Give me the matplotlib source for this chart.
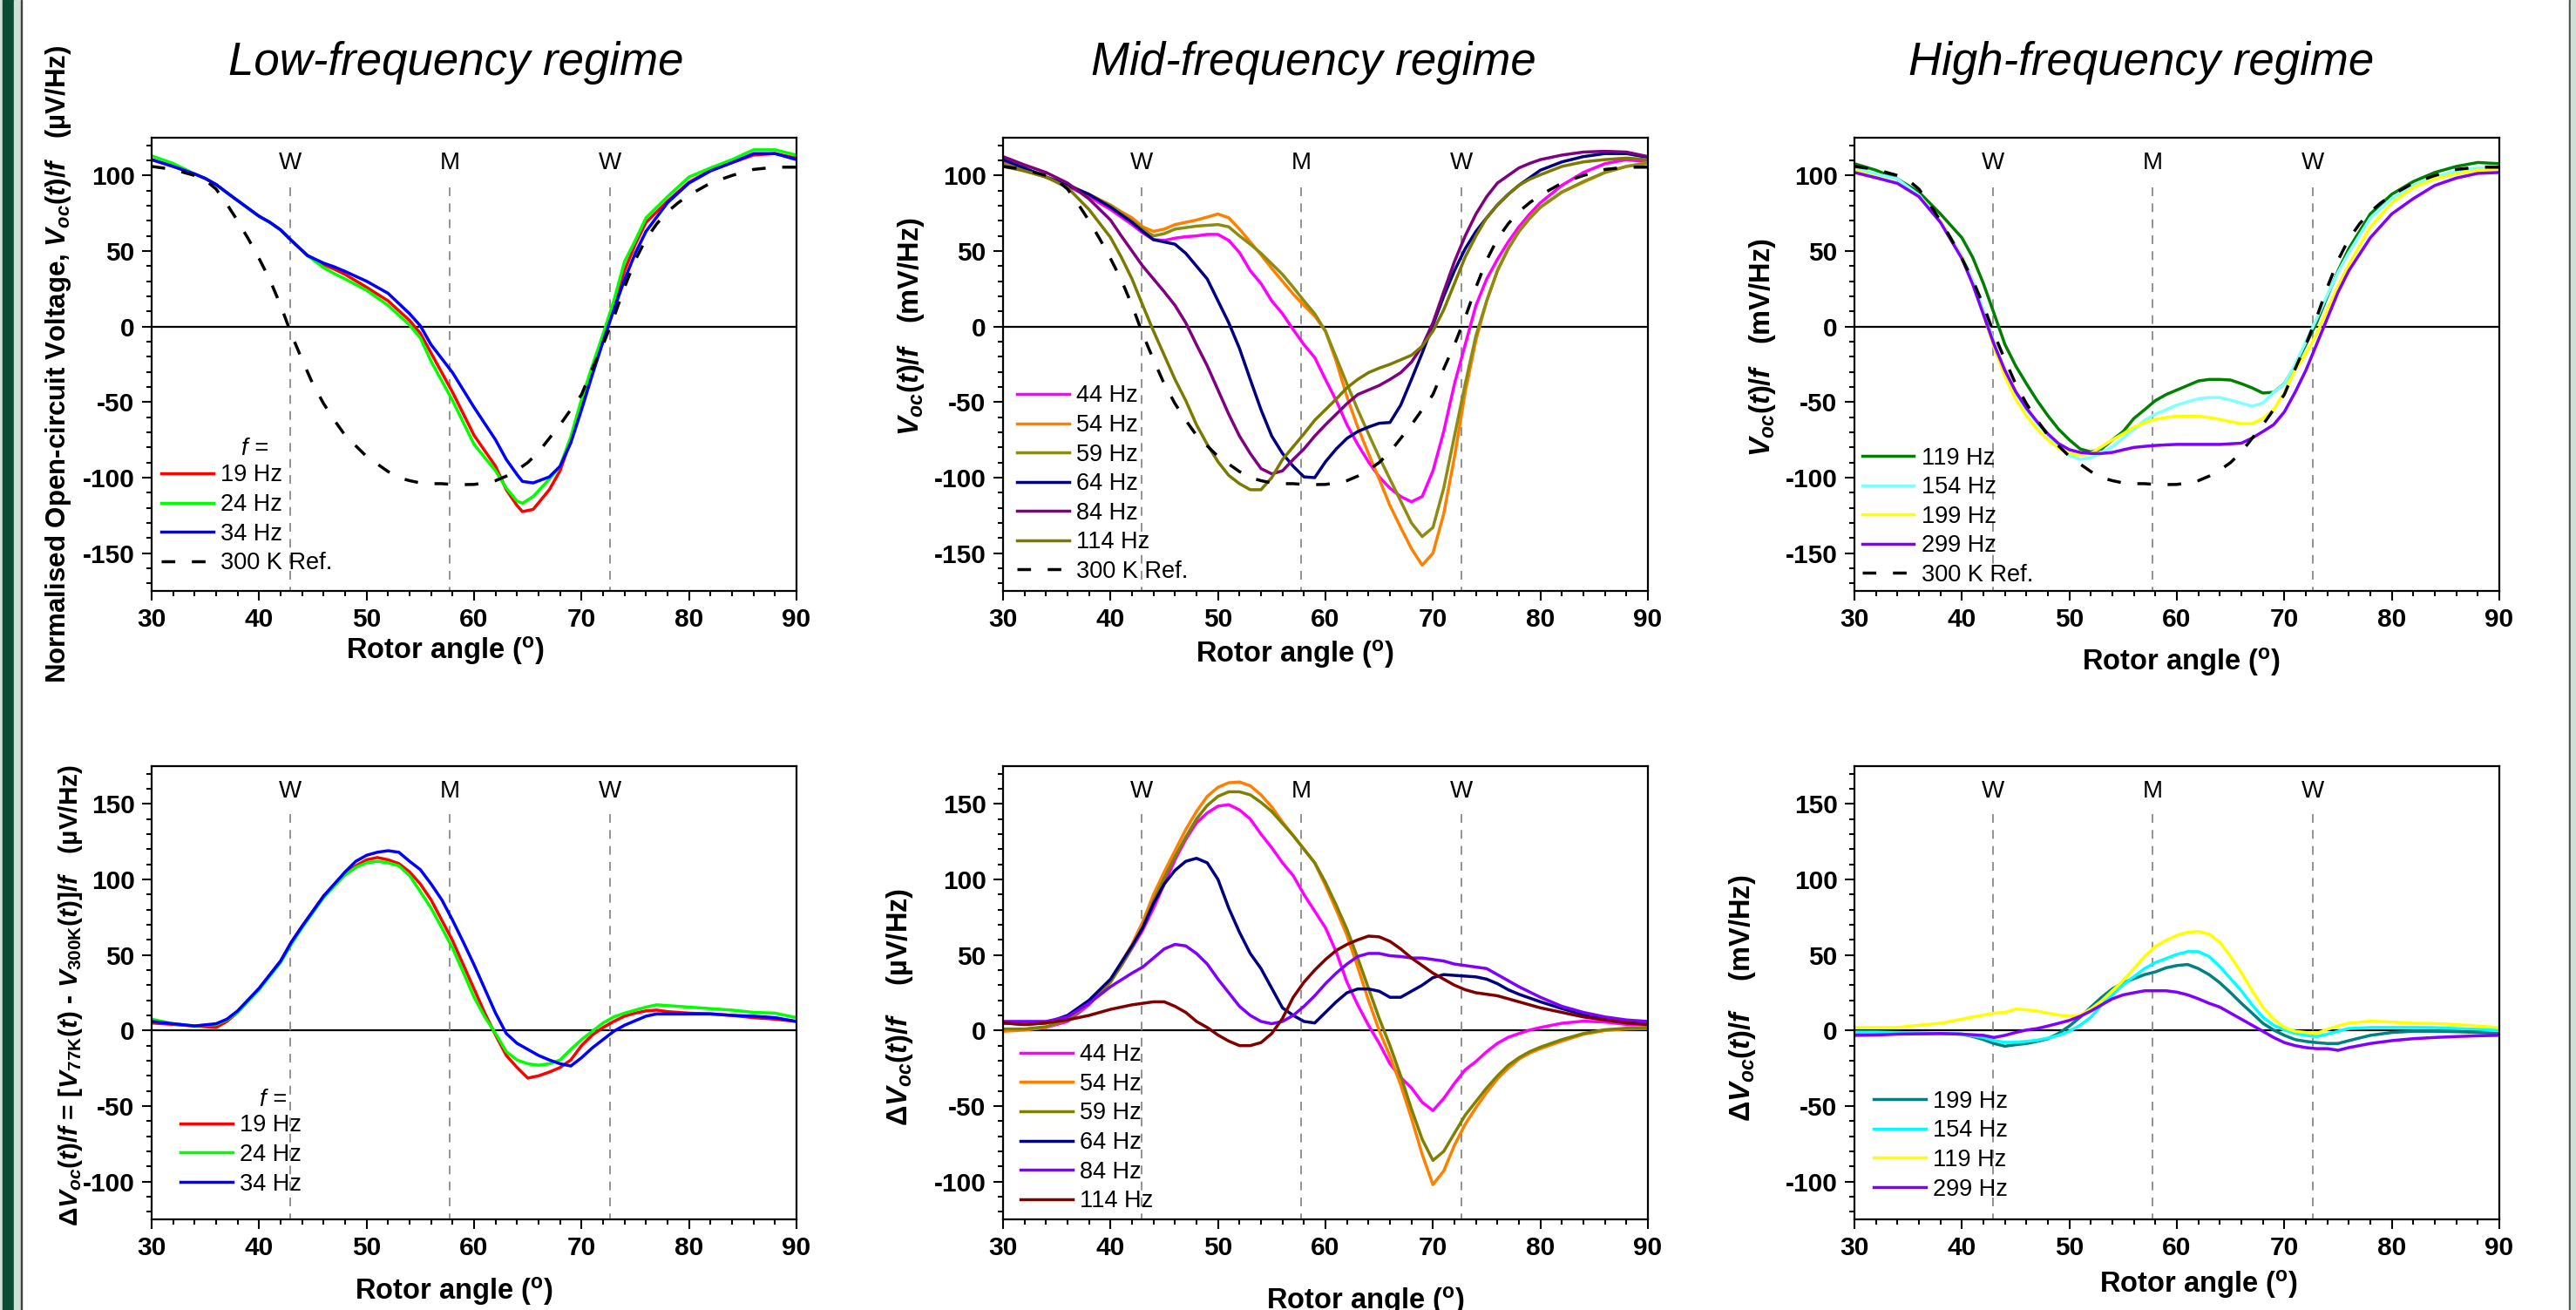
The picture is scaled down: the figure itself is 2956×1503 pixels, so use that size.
import matplotlib
matplotlib.use("Agg")
import matplotlib.pyplot as plt
from matplotlib.patches import Rectangle
from matplotlib.ticker import MultipleLocator

# ---------------- data ----------------
REF_X = [30, 32, 34, 35, 36, 37, 38, 39, 40, 41, 42, 43, 44, 45, 46, 47, 48, 49, 50, 51, 52, 53,
         54, 55, 56, 57, 58, 59, 60, 61, 62, 63, 64, 65, 66, 67, 68, 69, 70, 71, 72, 73, 74, 75,
         76, 77, 78, 79, 80, 82, 84, 86, 88, 90]
REF_300K = [106, 104, 100, 97, 91, 81, 70, 58, 45, 31, 14, -5, -22, -38, -51, -62, -72, -79, -86,
            -91, -96, -100, -102, -103.5, -104, -104, -104.5, -104.6, -104.5, -103.5, -102, -99,
            -95, -90, -83, -74, -65, -55, -45, -28, -12, 6, 26, 44, 58, 68, 76, 82, 87, 95, 100,
            104, 105.5, 105.5]

# low-frequency, top
LO_TOP_X = [30, 32, 34, 35, 36, 37.5, 40, 41, 42, 43, 44.5, 46, 47, 48, 50, 52, 54, 55, 56, 58, 60,
            62, 63, 64, 64.5, 65.5, 67, 68, 69, 70, 71, 72, 73, 74, 75, 76, 78, 80, 82, 84, 86, 88, 90]
LO_TOP_19 = [110.5, 106, 101, 98, 94, 86, 73, 69, 64, 57, 47, 41, 38, 34.5, 26, 17, 4, -4.5, -17.5,
             -43.5, -72, -92.5, -108, -118.5, -122.5, -121, -108, -95.5, -75, -52, -29, -7.5, 14,
             37, 54.5, 69, 83, 95.5, 103.5, 108.5, 113.5, 114.5, 111.5]
LO_TOP_24 = [113, 108, 101, 98, 94, 86, 73, 69, 64, 57, 47, 39, 35, 31.5, 24, 14, 1, -7.5, -23,
             -49, -78, -95.5, -107, -115.5, -117, -112.5, -101, -92.5, -73, -48, -26, -5, 17, 43,
             57, 72, 86, 99, 105, 110.5, 117, 117, 113.5]
LO_TOP_34 = [110.5, 106, 101, 98, 94, 86, 73, 69, 64, 57, 47, 42, 39.5, 36.5, 30, 22, 8.5, 0.5, -12,
             -30.5, -53.5, -75, -88, -98, -102.5, -103.5, -99.5, -92.5, -77, -55, -32, -10, 11, 31,
             48.5, 63, 82, 95, 103, 108.5, 114.5, 114.5, 110.5]

# low-frequency, bottom (difference)
LO_BOT_X = [30, 32, 34, 36, 37, 38, 40, 42, 43, 44, 46, 48, 49, 50, 51, 52, 53, 54, 55, 56, 57, 58,
            59, 60, 61, 62, 63, 64, 65, 66, 67, 68, 69, 70, 71, 72, 73, 74, 75, 76, 77, 78, 80, 82,
            84, 86, 88, 90]
LO_BOT_19 = [5, 4, 3, 2, 6, 12, 27.5, 46, 58.5, 69, 89, 104, 109, 113, 114.5, 113, 110.5, 105, 97,
             86.5, 73, 59.5, 43.5, 27.5, 11.5, -3, -16.5, -24.5, -31.5, -30, -27.5, -24.5, -19.5,
             -10, -3, 2, 6, 9.5, 11.5, 13, 13.5, 12.5, 11.5, 11, 10, 8.5, 7.5, 6]
LO_BOT_24 = [7.5, 4.5, 3, 4, 7, 12, 27, 45, 57, 68, 88, 103, 108, 111, 112, 111, 109, 102.5, 92, 81,
             68, 54.5, 38.5, 22, 9, -2, -14, -19.5, -22, -23, -22, -19.5, -12.5, -6, -0.5, 5, 9,
             11.5, 13.5, 15.5, 17, 16.5, 15.5, 14.5, 13.5, 12, 11.5, 8.5]
LO_BOT_34 = [6, 4.5, 3, 4.5, 7.5, 13, 28, 46, 58.5, 69, 89, 105, 112, 116, 118, 119, 118, 112,
             106.5, 97, 86.5, 73, 58.5, 43.5, 27.5, 11.5, -2, -8.5, -12.5, -16.5, -19.5, -22, -23.5,
             -18, -11.5, -6, -0.5, 3.5, 6.5, 9.5, 11, 11, 11, 11, 10, 9.5, 8.5, 6]

# mid-frequency
MID_X = [30, 32, 34, 36, 38, 40, 41, 42, 43, 44, 45, 46, 47, 48, 49, 50, 51, 52, 53, 54, 55, 56, 57,
         58, 59, 60, 61, 62, 63, 64, 65, 66, 67, 68, 69, 70, 71, 72, 73, 74, 75, 76, 77, 78, 79, 80,
         82, 84, 86, 88, 90]
MID_TOP_44 = [109, 104, 99, 93, 86, 77.5, 72.5, 67.5, 62, 57.5, 57, 58.5, 59.5, 60, 61, 61, 57, 49,
              37, 28.5, 17, 8.5, -2, -12, -20.5, -35, -49, -65, -78, -89.5, -99.5, -107, -112.5,
              -116, -112.5, -95.5, -69.5, -38, -12, 14, 31.5, 44.5, 56, 66, 74.5, 82, 93.5, 102,
              107.8, 110.5, 109]
MID_TOP_54 = [107, 103, 99, 94, 87.5, 80.5, 76, 72, 66, 63, 64.5, 67.5, 69, 70.5, 72.5, 74.5, 72,
              64.5, 56, 47.5, 38.5, 30, 21.5, 14, 7, -3, -23, -46.5, -66.5, -84, -101, -118.5,
              -133, -147, -158, -150, -124, -86.5, -43.5, -9, 17, 37, 51.5, 63, 72, 79, 89, 95.5,
              102, 106, 108.5]
MID_TOP_59 = [108, 103.5, 99, 94, 87.5, 80, 75, 70, 64.5, 60, 61.5, 64.5, 65.5, 66.5, 67, 67.5, 66,
              60, 54.5, 48.5, 41.5, 34.5, 26, 17, 8.5, -3, -20.5, -38, -55, -71, -86.5, -101,
              -115.5, -130, -139, -133, -107, -72.5, -38, -6, 17, 37, 51.5, 63, 71.5, 79, 89, 96,
              102, 106, 108]
MID_TOP_64 = [110.5, 105, 99, 93.5, 87.5, 79, 74, 69, 63, 57.5, 56, 54.5, 48.5, 40, 31.5, 17, 2.5,
              -14.5, -35, -55, -72.5, -84, -92.5, -99.5, -100, -89.5, -81, -74, -69.5, -66.5, -64,
              -63.5, -52, -35, -17.5, 1, 20, 37, 51.5, 63, 72, 80.5, 87.5, 93.5, 98.5, 103.5, 109,
              112.5, 114.5, 114.5, 112]
MID_TOP_84 = [112.5, 107, 102, 95, 84.5, 70.5, 60, 50, 40, 31.5, 23, 14, 2.5, -12, -26, -42, -58,
              -72.5, -84, -94, -97.5, -95.5, -88, -81, -72.5, -65, -58, -51, -45, -42, -39, -35,
              -30.5, -23.5, -13, 2.5, 23, 43, 60, 74.5, 86, 95, 100, 105, 108, 110.5, 113.5, 115.5,
              116, 115.5, 112.5]
MID_TOP_114 = [106, 103, 99, 92, 77.5, 59, 46, 31.5, 14, -3, -19, -35, -49, -65, -78, -89.5, -98.5,
               -104, -108, -108, -100, -88, -79.5, -71, -62, -55, -48, -40.5, -35, -30.5, -27.5,
               -25, -22, -19, -13, -3, 11, 28.5, 46, 60, 72, 80.5, 87.5, 93.5, 97.5, 100.5, 106,
               109, 110.5, 111.5, 110.5]

MID_BOT_44 = [0.8, 0.8, 2, 6, 17, 33, 43, 54.5, 66.5, 81, 97, 113, 126.5, 137.5, 144, 148.5, 149.5,
              146, 140, 130, 121, 111, 102.5, 90, 79, 68, 52, 32, 17, 3.5, -8.5, -22, -31, -38,
              -47.5, -53, -45, -35, -26, -20.5, -14, -8.5, -4.5, -2, 0.3, 2, 4.8, 6.2, 5.6, 4, 3.5]
MID_BOT_54 = [-0.5, 0.3, 2, 7.5, 19, 33, 45, 57, 72, 90, 105, 119, 133, 145, 155, 161, 164, 164.5,
              162, 156, 148, 138, 129, 120, 111, 96, 80, 63, 42, 20, 0, -17, -36, -58, -82, -102,
              -93, -76, -62, -51, -41, -32, -25, -19, -15, -12, -7, -2.5, 0, 1, 1.3]
MID_BOT_59 = [1, 1, 2.5, 7, 18, 32, 43, 55, 69, 86, 101, 115, 128, 140, 149, 155, 158, 158, 156,
              151, 145, 137, 129, 120, 111, 98, 83, 67, 48, 28, 8, -10, -30, -52, -72, -86, -80,
              -68, -56, -47, -38, -30, -23, -18, -14, -11, -6, -2, 0.5, 1.5, 1.5]
MID_BOT_64 = [5, 4, 5, 10, 20, 34, 45, 56, 68, 84, 97, 106, 112, 114, 111, 100, 81, 65, 51, 41, 28,
              15, 10, 6, 5, 12, 19, 25, 27.5, 27.5, 26, 22, 22, 26, 30, 35, 37, 36.5, 36, 35.5, 34,
              31, 27, 24, 21.5, 19, 14.5, 10.5, 8, 6, 4]
MID_BOT_84 = [6, 6, 6, 9, 18, 29, 33.5, 38, 42, 48, 54, 57, 56, 51, 44, 34, 25, 16, 10, 6, 4.5, 6,
              10, 16, 23, 31, 38, 44, 49, 51, 51, 49.5, 49, 48, 48, 47, 46, 44, 43, 42, 41, 37, 33,
              29, 25.5, 22, 16, 12, 9, 7, 6]
MID_BOT_114 = [5, 4, 5, 7, 10, 14, 15.5, 17, 18, 19, 19, 16, 12, 6, 2, -3, -7, -10, -10, -8, -2, 8,
               22, 32, 40, 47, 53, 57, 60, 62.5, 62, 59, 54, 48, 43, 38, 34, 30, 27, 25, 24, 23, 21,
               19, 17, 15, 12, 9, 7, 5, 4]

# high-frequency
HI_X = [30, 32, 34, 36, 38, 40, 41, 42, 43, 44, 45, 46, 47, 48, 49, 50, 51, 52, 53, 54, 55, 56, 57,
        58, 59, 60, 61, 62, 63, 64, 65, 66, 67, 68, 69, 70, 71, 72, 73, 74, 75, 76, 78, 80, 82, 84,
        86, 88, 90]
HI_TOP_119 = [107.8, 103.5, 97.7, 89, 74.6, 58.8, 45.8, 28.5, 8.4, -11.8, -26, -37.8, -49, -59, -68,
              -75, -81, -83, -81, -75, -69.5, -60.8, -55, -49, -45, -42, -39, -36, -35, -35, -35.4,
              -37.8, -40.6, -44, -43.5, -37.8, -26, -11.8, 2.6, 20, 37, 51.6, 74.6, 87.6, 96, 102,
              106, 108.6, 107.8]
HI_TOP_154 = [105, 101, 97.7, 87, 70, 47, 31, 11, -11, -30, -44, -55, -64, -72, -79.5, -85.3, -88,
              -86.7, -83.9, -79.5, -73.8, -68, -62, -58, -55, -52, -49.8, -47.8, -47, -47, -48.7,
              -50.7, -52.7, -50.7, -43.5, -38, -25, -10, 5, 21, 36, 49, 71.8, 84.7, 93.4, 99, 103,
              105, 105]
HI_TOP_199 = [103.5, 99, 94.8, 86, 70, 46, 29, 8, -14, -33, -48, -59, -68, -75, -80.5, -84, -85,
              -84, -79.5, -75, -71, -66.6, -63.7, -61.4, -60.2, -59.4, -59.4, -59.4, -60.2, -61.4,
              -63, -64.3, -64.3, -60.8, -55, -43.5, -29, -18, -5, 11, 27, 41, 66, 81.8, 92, 97.7,
              101, 103.5, 104]
HI_TOP_299 = [102, 98.5, 94.8, 86, 69, 45, 28, 8, -12, -29, -43, -54, -63, -71, -77.5, -81.5, -83.3,
              -84, -84, -83.3, -81.6, -80, -79.3, -78.7, -78.3, -78, -78, -78, -78, -78, -77.6,
              -77.2, -73.8, -69.5, -65, -56.5, -43.5, -29, -11.8, 5.5, 22.8, 37, 58.8, 74.6, 84.7,
              93.4, 98.3, 101.4, 102]

HI_BOT_199 = [-2, -2, -2, -2, -2, -2.4, -4, -6, -8.6, -10.4, -9.4, -8.6, -7.2, -5.4, -1.9, 3, 8.8,
              15.5, 22, 27.6, 31.6, 34.3, 37, 38.8, 41.5, 43, 43.7, 41, 37, 31.6, 25, 18, 11.5, 4.8,
              0.3, -3.2, -6, -7.2, -8, -8.6, -8.6, -6.7, -3.2, -1.3, -0.5, -0.5, -0.8, -1.3, -2]
HI_BOT_154 = [-1, -1, -1.3, -1.5, -2, -2.4, -3.5, -4.6, -6.7, -7.8, -7.8, -7.2, -6.4, -5, -3.2, -0.5,
              3.5, 8.8, 17, 23.6, 30.3, 35.6, 41, 45, 47.7, 50.4, 52.2, 52.2, 49, 42.3, 34.3, 26.3,
              17, 8.8, 3.5, 0.3, -1.9, -3.2, -4, -2.4, -0.5, 1.3, 2, 2, 2, 1.9, 1.3, 0.8, 0.3]
HI_BOT_119 = [2, 2, 2, 3.5, 4.8, 7.5, 9, 10.2, 11.5, 12, 14.2, 13.7, 12.9, 11.5, 10.2, 9.4, 10.2,
              14.2, 19.6, 26.3, 33, 41, 49, 55.7, 59.7, 63, 65, 65.6, 63.8, 58.4, 49, 38.3, 26.3,
              15.5, 7.5, 2, -0.5, -1.3, -1.9, 0.8, 3, 4.8, 6.2, 5.6, 4.8, 4.6, 4, 3, 1.9]
HI_BOT_299 = [-3.2, -3, -2.4, -2.2, -2, -2.4, -2.8, -3.2, -4.6, -3.2, -1.3, 0.3, 1.3, 3, 4.8, 6.7,
              9.4, 12.9, 17, 21, 23.6, 25, 26.3, 26.3, 26.3, 25.4, 23.6, 21, 18, 15.5, 11.5, 7.5,
              3.5, -0.5, -4.6, -8, -10, -11.3, -12, -12, -13.1, -11.3, -8.6, -6.7, -5.4, -4.6, -4,
              -3.5, -3.2]

MARK_X = [42.9, 57.75, 72.65]
MARK_TEXT = ["W", "M", "W"]
TITLES = ["Low-frequency regime", "Mid-frequency regime", "High-frequency regime"]

# ---------------- style ----------------
plt.rcParams["font.family"] = ["Liberation Sans", "DejaVu Sans"]
plt.rcParams["axes.unicode_minus"] = False
plt.rcParams["mathtext.fontset"] = "custom"
plt.rcParams["mathtext.rm"] = "Liberation Sans:bold"
plt.rcParams["mathtext.it"] = "Liberation Sans:italic:bold"
plt.rcParams["mathtext.bf"] = "Liberation Sans:bold"

W, H = 2956, 1503
COL_LEFT = [174, 1151, 2128]
ROW_TOP = [158, 879]
AX_W, AX_H = 740, 520
LW = 2.5
DASH_REF = (0, (4.5, 5.5))
LEG_SIZE = 19.5

fig = plt.figure(figsize=(W / 100, H / 100), dpi=100)

# frame decoration at the sides
fig.patches.append(Rectangle((0, 0), 3 / W, 1, transform=fig.transFigure, color="#cfe0d7"))
fig.patches.append(Rectangle((3 / W, 0), 13 / W, 1, transform=fig.transFigure, color="#0b4a33"))
fig.patches.append(Rectangle((16 / W, 0), 8 / W, 1, transform=fig.transFigure, color="#cfe0d7"))
fig.patches.append(Rectangle((24 / W, 0), 1.5 / W, 1, transform=fig.transFigure, color="#404040"))
fig.patches.append(Rectangle((2948 / W, 0), 1.5 / W, 1, transform=fig.transFigure, color="#505050"))
fig.patches.append(Rectangle((2949.5 / W, 0), 6.5 / W, 1, transform=fig.transFigure, color="#cfe0d7"))


def make_axes(col, row, ylim, mark_top, mark_y):
    left = COL_LEFT[col] / W
    bottom = 1 - (ROW_TOP[row] + AX_H) / H
    ax = fig.add_axes([left, bottom, AX_W / W, AX_H / H])
    ax.set_xlim(30, 90)
    ax.set_ylim(*ylim)
    ax.xaxis.set_major_locator(MultipleLocator(10))
    ax.xaxis.set_minor_locator(MultipleLocator(2))
    ax.yaxis.set_major_locator(MultipleLocator(50))
    ax.yaxis.set_minor_locator(MultipleLocator(10))
    ax.tick_params(which="both", direction="out", top=False, right=False, width=1.5,
                   labelsize=21.5, pad=6)
    ax.tick_params(which="major", length=8)
    ax.tick_params(which="minor", length=4.5)
    for lbl in ax.get_xticklabels() + ax.get_yticklabels():
        lbl.set_fontweight("bold")
    for sp in ax.spines.values():
        sp.set_linewidth(1.6)
    ax.axhline(0, color="black", lw=1.6, zorder=1)
    for xm, txt in zip(MARK_X, MARK_TEXT):
        ax.plot([xm, xm], [mark_top, ylim[0]], color="#808080", lw=1.2,
                ls=(0, (6, 5)), zorder=1)
        ax.text(xm, mark_y, txt, ha="center", va="center", fontsize=20)
    return ax


def axis_labels(ax, ylabel, ysize, ypos, xpos):
    ax.set_ylabel(ylabel, fontsize=ysize, fontweight="bold", va="center")
    ax.yaxis.set_label_coords(*ypos)
    ax.set_xlabel("Rotor angle ($^\\mathrm{o}$)", fontsize=23.5, fontweight="bold", va="center")
    ax.xaxis.set_label_coords(*xpos)


def add_legend(ax, handles, labels, anchor):
    return ax.legend(handles, labels, loc="upper left", bbox_to_anchor=anchor, frameon=False,
                     fontsize=LEG_SIZE, handlelength=2.2, handletextpad=0.3, labelspacing=0.28,
                     borderpad=0, borderaxespad=0)


def f_header(ax, x, y):
    ax.text(x, y, "f =", transform=ax.transAxes, ha="center", va="center",
            fontsize=LEG_SIZE, style="italic")


TOP_LIM = (-175, 125)
BOT_LIM = (-125, 175)

# ---- low-frequency top ----
ax = make_axes(0, 0, TOP_LIM, 92, 108)
h1, = ax.plot(LO_TOP_X, LO_TOP_19, color="#ff0000", lw=LW)
h2, = ax.plot(LO_TOP_X, LO_TOP_24, color="#00ff00", lw=LW)
h3, = ax.plot(LO_TOP_X, LO_TOP_34, color="#0000ff", lw=LW)
hr, = ax.plot(REF_X, REF_300K, color="black", lw=LW, ls=DASH_REF)
add_legend(ax, [h1, h2, h3, hr], ["19 Hz", "24 Hz", "34 Hz", "300 K Ref."], (0.015, 0.28))
f_header(ax, 0.16, 0.313)
axis_labels(ax, "Normalised Open-circuit Voltage, $V_{oc}(t)/f$   (µV/Hz)", 22.5,
            (-0.145, 0.5), (0.455, -0.131))

# ---- low-frequency bottom ----
ax = make_axes(0, 1, BOT_LIM, 143, 158.5)
h1, = ax.plot(LO_BOT_X, LO_BOT_19, color="#ff0000", lw=LW)
h2, = ax.plot(LO_BOT_X, LO_BOT_24, color="#00ff00", lw=LW)
h3, = ax.plot(LO_BOT_X, LO_BOT_34, color="#0000ff", lw=LW)
add_legend(ax, [h1, h2, h3], ["19 Hz", "24 Hz", "34 Hz"], (0.045, 0.232))
f_header(ax, 0.188, 0.263)
axis_labels(ax, "Δ$V_{oc}(t)/f$ = [$V_{\\mathrm{77K}}(t)$ - $V_{\\mathrm{300K}}(t)$]/$f$   (µV/Hz)",
            21.5, (-0.125, 0.494), (0.469, -0.158))

# ---- mid-frequency top ----
ax = make_axes(1, 0, TOP_LIM, 92, 108)
hs = [ax.plot(MID_X, y, color=c, lw=LW)[0] for y, c in [
    (MID_TOP_44, "#ff00ff"), (MID_TOP_54, "#ff8000"), (MID_TOP_59, "#8c8c12"),
    (MID_TOP_64, "#000080"), (MID_TOP_84, "#800080"), (MID_TOP_114, "#7a7a00")]]
hr, = ax.plot(REF_X, REF_300K, color="black", lw=LW, ls=DASH_REF)
add_legend(ax, hs + [hr], ["44 Hz", "54 Hz", "59 Hz", "64 Hz", "84 Hz", "114 Hz", "300 K Ref."],
           (0.022, 0.455))
axis_labels(ax, "$V_{oc}(t)/f$   (mV/Hz)", 23.5, (-0.143, 0.583), (0.453, -0.14))

# ---- mid-frequency bottom ----
ax = make_axes(1, 1, BOT_LIM, 143, 158.5)
hs = [ax.plot(MID_X, y, color=c, lw=LW)[0] for y, c in [
    (MID_BOT_44, "#ff00ff"), (MID_BOT_54, "#ff8000"), (MID_BOT_59, "#808000"),
    (MID_BOT_64, "#000080"), (MID_BOT_84, "#8000ff"), (MID_BOT_114, "#800000")]]
add_legend(ax, hs, ["44 Hz", "54 Hz", "59 Hz", "64 Hz", "84 Hz", "114 Hz"], (0.027, 0.388))
axis_labels(ax, "Δ$V_{oc}(t)/f$    (µV/Hz)", 23.5, (-0.16, 0.469), (0.562, -0.18))

# ---- high-frequency top ----
ax = make_axes(2, 0, TOP_LIM, 92, 108)
hs = [ax.plot(HI_X, y, color=c, lw=LW)[0] for y, c in [
    (HI_TOP_119, "#008000"), (HI_TOP_154, "#80ffff"), (HI_TOP_199, "#ffff00"),
    (HI_TOP_299, "#8000ff")]]
hr, = ax.plot(REF_X, REF_300K, color="black", lw=LW, ls=DASH_REF)
add_legend(ax, hs + [hr], ["119 Hz", "154 Hz", "199 Hz", "299 Hz", "300 K Ref."], (0.012, 0.318))
axis_labels(ax, "$V_{oc}(t)/f$   (mV/Hz)", 23.5, (-0.143, 0.538), (0.507, -0.156))

# ---- high-frequency bottom ----
ax = make_axes(2, 1, BOT_LIM, 143, 158.5)
hs = [ax.plot(HI_X, y, color=c, lw=LW)[0] for y, c in [
    (HI_BOT_199, "#008080"), (HI_BOT_154, "#00ffff"), (HI_BOT_119, "#ffff00"),
    (HI_BOT_299, "#8000ff")]]
add_legend(ax, hs, ["199 Hz", "154 Hz", "119 Hz", "299 Hz"], (0.03, 0.285))
axis_labels(ax, "Δ$V_{oc}(t)/f$    (mV/Hz)", 23.5, (-0.173, 0.487), (0.533, -0.144))

# ---- column titles ----
for x_px, title in zip([523, 1507, 2457], TITLES):
    fig.text(x_px / W, 1 - 72 / H, title, ha="center", va="center", fontsize=38, style="italic")

fig.savefig("out.png", dpi=100)
